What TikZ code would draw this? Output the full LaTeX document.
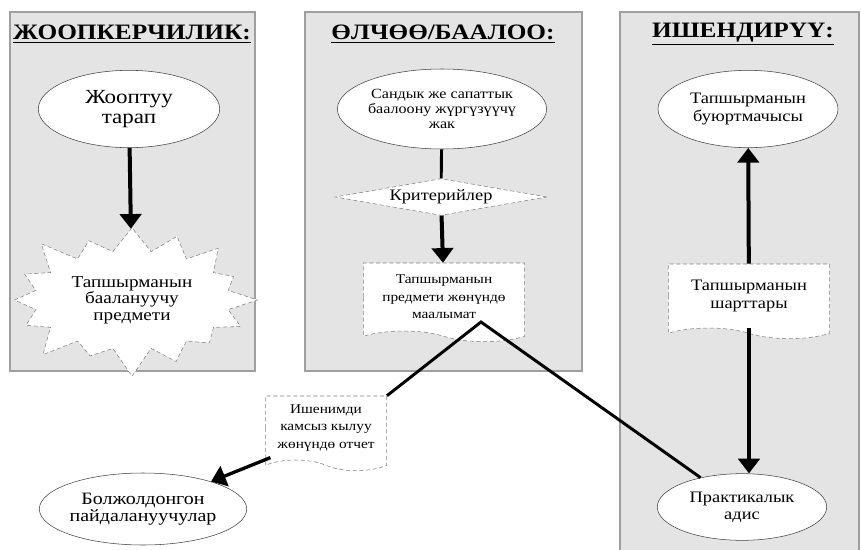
\documentclass[tikz,border=0pt]{standalone}
\usepackage{fontspec}
\setmainfont{Liberation Serif}[FakeStretch=1.15]
\usetikzlibrary{arrows.meta,shapes.geometric,shapes.symbols,positioning,calc}
\definecolor{panelgray}{HTML}{E4E4E4}
\tikzset{ % panels, shapes and lines
    panel/.style={draw=gray!75, fill=panelgray, line width=0.8pt},
    title/.style={font=\fontsize{16.5}{18}\selectfont\bfseries},
    oval/.style={ellipse, draw=gray!50!black, fill=white, align=center, inner sep=0pt, font=\fontsize{12}{13}\selectfont},
    docbox/.style={tape, tape bend top=none, tape bend bottom=out and in, tape bend height=8pt, draw=gray, densely dashed, fill=white, align=center, inner sep=0pt, font=\fontsize{12}{13}\selectfont},
    crit/.style={diamond, aspect=4.6, draw=gray, densely dashed, fill=white, inner sep=0pt, font=\fontsize{12}{13}\selectfont},
    burst/.style={starburst, starburst points=16, starburst point height=24pt, draw=gray, densely dashed, fill=white, align=center, inner sep=0pt, font=\fontsize{12.5}{12.5}\selectfont},
    line/.style={draw, line width=3pt, -{Triangle[length=11pt,width=16pt]}},
    link/.style={draw, line width=2.2pt}
}

\begin{document}
\begin{tikzpicture}[x=0.75pt, y=-0.75pt]
	\useasboundingbox (0,0) rectangle (861,550);
	%Panels
	\draw[panel] (10,12) rectangle (255,371);
	\draw[panel] (305,12) rectangle (582,371);
	\draw[panel] (620,12) rectangle (859,560);
	\node[title] (risk)   at (132,34) {\underline{ЖООПКЕРЧИЛИК:}};
	\node[title] (measure) at (443,34) {\underline{ӨЛЧӨӨ/БААЛОО:}};
	\node[title] (assure) at (743,34) {\underline{ИШЕНДИРҮҮ:}};
	%Nodes
	\node[oval, minimum width=136pt, minimum height=58pt, font=\fontsize{15}{14.5}\selectfont] (resp) at (129,109) {Жооптуу\\тарап};
	\pgfmathsetseed{11}
	\node[burst, minimum width=195pt, minimum height=122pt] (subj) at (132,300) {Тапшырманын\\баалануучу\\предмети};
	\node[oval, minimum width=135pt, minimum height=60pt, font=\fontsize{10.5}{11.2}\selectfont] (assess) at (442,109) {Сандык же сапаттык\\баалоону жүргүзүүчү\\жак};
	\node[crit, minimum width=159pt] (criteria) at (441,197) {Критерийлер};
	\node[docbox, minimum width=121pt, minimum height=59pt, font=\fontsize{10}{13}\selectfont] (info) at (444,297) {Тапшырманын\\предмети жөнүндө\\маалымат};
	\node[oval, minimum width=135pt, minimum height=58pt] (client) at (748,109) {Тапшырманын\\буюртмачысы};
	\node[docbox, minimum width=121pt, minimum height=56pt] (cond) at (749,296) {Тапшырманын\\шарттары};
	\node[oval, minimum width=127pt, minimum height=50pt] (expert) at (742,507) {Практикалык\\адис};
	\node[docbox, minimum width=91pt, minimum height=56pt, font=\fontsize{10}{12.8}\selectfont] (report) at (326,428) {Ишенимди\\камсыз кылуу\\жөнүндө отчет};
	\node[oval, minimum width=135pt, minimum height=54pt, font=\fontsize{13}{13}\selectfont] (users) at (143,509) {Болжолдонгон\\пайдалануучулар};
	\coordinate (apex) at (481,322);
	%Edges
	\draw[line] (resp) -- (subj);
	\draw[link] (assess) -- (criteria);
	\draw[line] (criteria) -- (info);
	\draw[line] (cond) -- (client);
	\draw[line] (cond.south) -- (cond.south |- expert.north);
	\draw[link] (report.north east) -- (apex) -- (expert);
	\draw[line, line width=2.5pt] ([xshift=4pt,yshift=2pt]report.south west) -- (users);
\end{tikzpicture}
\end{document}
